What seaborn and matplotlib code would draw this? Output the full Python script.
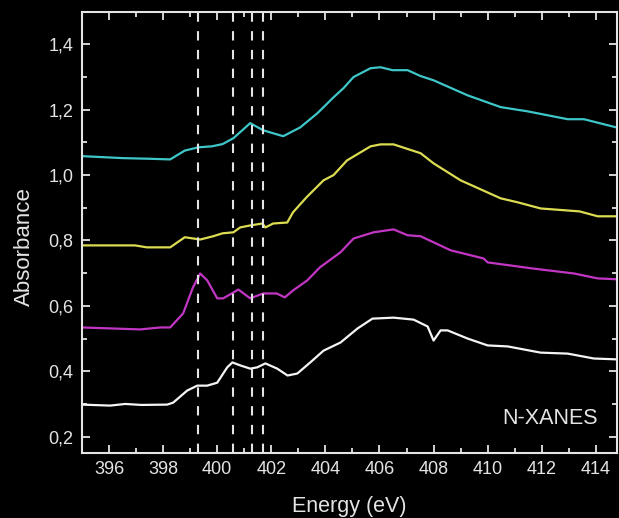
import numpy as np
import pandas as pd
import seaborn as sns
import matplotlib.pyplot as plt
from matplotlib.ticker import MultipleLocator, FuncFormatter

# Spectra (energy in eV, absorbance)
cyan_x = [395.0, 396.5, 397.5, 398.26, 398.8, 399.3, 399.8, 400.2, 400.6, 401.22, 401.7,
          402.44, 403.07, 403.7, 404.3, 404.67, 405.04, 405.67, 406.04, 406.48, 407.04,
          407.52, 408.0, 409.26, 410.48, 411.48, 412.96, 413.56, 414.9]
cyan_y = [1.058, 1.052, 1.050, 1.048, 1.075, 1.085, 1.088, 1.095, 1.113, 1.159, 1.137,
          1.119, 1.146, 1.189, 1.238, 1.266, 1.300, 1.327, 1.330, 1.321, 1.321,
          1.303, 1.290, 1.244, 1.208, 1.195, 1.171, 1.171, 1.143]

yellow_x = [395.0, 396.96, 397.4, 398.26, 398.8, 399.37, 399.85, 400.2, 400.6, 400.85,
            401.22, 401.67, 401.78, 402.07, 402.59, 402.8, 403.3, 403.93, 404.3, 404.8,
            405.67, 406.04, 406.52, 407.52, 408.0, 409.0, 410.48, 411.1, 411.96, 413.4,
            414.07, 414.9]
yellow_y = [0.785, 0.785, 0.779, 0.779, 0.810, 0.803, 0.813, 0.822, 0.825, 0.840,
            0.846, 0.852, 0.840, 0.852, 0.855, 0.886, 0.932, 0.984, 1.000, 1.045,
            1.088, 1.094, 1.094, 1.067, 1.036, 0.984, 0.929, 0.917, 0.898, 0.889,
            0.874, 0.874]

magenta_x = [395.0, 397.15, 397.9, 398.26, 398.74, 399.1, 399.37, 399.63, 400.0, 400.22,
             400.6, 400.78, 401.22, 401.7, 402.2, 402.5, 402.8, 403.33, 403.8, 404.56,
             405.04, 405.78, 406.52, 407.04, 407.52, 408.63, 409.85, 410.0, 411.7,
             413.2, 414.07, 414.9]
magenta_y = [0.534, 0.528, 0.534, 0.534, 0.577, 0.656, 0.699, 0.678, 0.623, 0.623,
             0.641, 0.650, 0.623, 0.638, 0.638, 0.626, 0.647, 0.678, 0.718, 0.764,
             0.806, 0.825, 0.834, 0.816, 0.813, 0.770, 0.745, 0.733, 0.714,
             0.699, 0.684, 0.681]

white_x = [395.0, 396.04, 396.6, 397.2, 398.15, 398.37, 398.89, 399.26, 399.63, 400.0,
           400.37, 400.56, 400.85, 401.22, 401.48, 401.78, 402.22, 402.6, 402.96, 403.44,
           403.93, 404.56, 405.19, 405.74, 406.52, 407.26, 407.78, 408.0, 408.26, 408.52,
           409.26, 410.0, 410.74, 411.96, 412.96, 413.93, 414.9]
white_y = [0.298, 0.295, 0.300, 0.297, 0.298, 0.304, 0.341, 0.356, 0.356, 0.365,
           0.412, 0.427, 0.418, 0.408, 0.412, 0.424, 0.408, 0.387, 0.393, 0.427,
           0.463, 0.488, 0.531, 0.561, 0.564, 0.558, 0.537, 0.494, 0.525, 0.525,
           0.500, 0.479, 0.476, 0.457, 0.454, 0.439, 0.436]

peak_lines = [399.3, 400.6, 401.3, 401.7]

fg = '#e4e4e4'
plt.rcParams['font.family'] = ['Liberation Sans', 'DejaVu Sans']

fig = plt.figure(figsize=(6.19, 5.18), dpi=100, facecolor='black')
ax = fig.add_axes([0.1325, 0.1255, 0.865, 0.852])
ax.set_facecolor('black')

curves = [(cyan_x, cyan_y, '#3ec6c8'), (yellow_x, yellow_y, '#dcdc52'),
          (magenta_x, magenta_y, '#c236c4'), (white_x, white_y, '#f4f4f4')]
for xs, ys, col in curves:
    sns.lineplot(x=xs, y=ys, color=col, linewidth=1.6, ax=ax)

for xv in peak_lines:
    ax.axvline(xv, color=fg, linewidth=1.5, linestyle=(0, (4.5, 4.5)))

ax.text(412.3, 0.255, 'N-XANES', color=fg, fontsize=15.5, ha='center', va='center')

ax.set_xlim(395, 414.8)
ax.set_ylim(0.15, 1.5)
ax.xaxis.set_major_locator(MultipleLocator(2))
ax.xaxis.set_minor_locator(MultipleLocator(1))
ax.yaxis.set_major_locator(MultipleLocator(0.2))
ax.yaxis.set_minor_locator(MultipleLocator(0.1))
ax.yaxis.set_major_formatter(FuncFormatter(lambda v, p: f'{v:.1f}'.replace('.', ',')))

ax.tick_params(which='both', direction='in', colors=fg, top=True, right=True,
               labelsize=13, width=1.3)
ax.tick_params(which='major', length=6, pad=6)
ax.tick_params(which='minor', length=3.5)
for s in ax.spines.values():
    s.set_color(fg)
    s.set_linewidth(1.5)

ax.set_xlabel('Energy (eV)', color=fg, fontsize=15.5)
ax.set_ylabel('Absorbance', color=fg, fontsize=16)
ax.xaxis.set_label_coords(0.5, -0.097)
ax.yaxis.set_label_coords(-0.088, 0.467)

fig.savefig('out.png', dpi=100, facecolor='black')
